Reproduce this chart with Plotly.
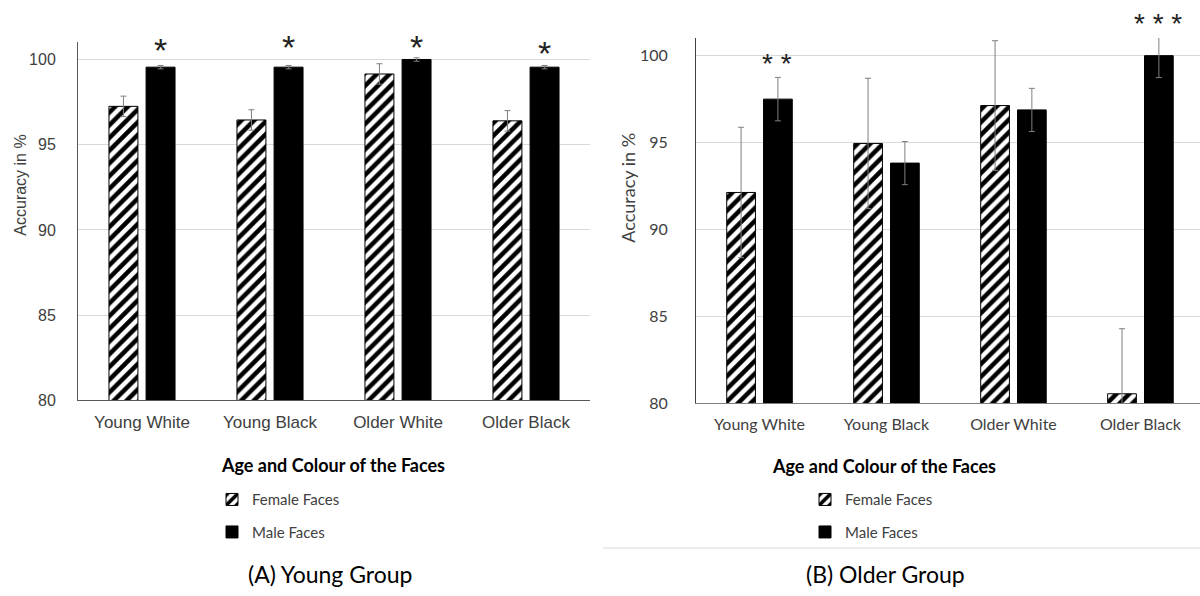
import plotly.graph_objects as go

categories = ["Young White", "Young Black", "Older White", "Older Black"]

young_female = [97.25, 96.45, 99.15, 96.4]
young_female_err = [0.6, 0.6, 0.6, 0.6]
young_male = [99.55, 99.55, 100.0, 99.55]
young_male_err = [0.1, 0.1, 0.1, 0.1]
young_sig = ["*", "*", "*", "*"]

older_female = [92.13, 94.95, 97.13, 80.55]
older_female_err = [3.75, 3.75, 3.73, 3.74]
older_male = [97.5, 93.82, 96.88, 100.0]
older_male_err = [1.25, 1.24, 1.24, 1.26]
older_sig = ["* *", "", "", "* * *"]

# target picture is 1200x596; figure slightly taller to match the capture
W, H = 1200, 604
REF_H = 596
def px(x):
    return x / W
def py(y):
    return 1 - y / REF_H

CAL = "Lato, 'Open Sans', sans-serif"
ARI = "'Liberation Sans', Arial, sans-serif"
TXT = "#404040"

hatch = dict(shape="/", fgcolor="black", bgcolor="white", size=9, solidity=0.5, fgopacity=1)
errstyle = dict(type="data", color="#7f7f7f", thickness=1, width=3)

fig = go.Figure()
fig.add_trace(go.Bar(x=categories, y=young_female, name="Female Faces",
                     marker=dict(color="white", line=dict(color="black", width=1), pattern=hatch),
                     error_y=dict(array=young_female_err, **errstyle),
                     xaxis="x", yaxis="y", legend="legend"))
fig.add_trace(go.Bar(x=categories, y=young_male, name="Male Faces",
                     marker=dict(color="black", line=dict(color="black", width=1)),
                     error_y=dict(array=young_male_err, **errstyle),
                     xaxis="x", yaxis="y", legend="legend"))
fig.add_trace(go.Bar(x=categories, y=older_female, name="Female Faces",
                     marker=dict(color="white", line=dict(color="black", width=1), pattern=hatch),
                     error_y=dict(array=older_female_err, **errstyle),
                     xaxis="x2", yaxis="y2", legend="legend2"))
fig.add_trace(go.Bar(x=categories, y=older_male, name="Male Faces",
                     marker=dict(color="black", line=dict(color="black", width=1)),
                     error_y=dict(array=older_male_err, **errstyle),
                     xaxis="x2", yaxis="y2", legend="legend2"))

annotations = []
# significance stars
young_star_y = [py(50), py(47), py(47), py(53)]
for c, s, yy in zip(categories, young_sig, young_star_y):
    if s:
        annotations.append(dict(x=c, y=yy, xref="x", yref="paper", text=s, showarrow=False,
                                xanchor="center", yanchor="middle",
                                xshift=18, font=dict(family=ARI, size=34, color="#222")))
older_star_y = [py(64), 0, 0, py(24)]
for c, s, yy in zip(categories, older_sig, older_star_y):
    if s:
        annotations.append(dict(x=c, y=yy, xref="x2", yref="paper", text=s, showarrow=False,
                                xanchor="center", yanchor="middle",
                                xshift=18, font=dict(family=ARI, size=28, color="#222")))

def note(x, y, text, font, angle=0):
    return dict(x=px(x), y=py(y), xref="paper", yref="paper", text=text, textangle=angle,
                xanchor="center", yanchor="middle", showarrow=False, font=font)

annotations += [
    note(333, 466, "<b>Age and Colour of the Faces</b>", dict(family=CAL, size=18, color="black")),
    note(884, 467, "<b>Age and Colour of the Faces</b>", dict(family=CAL, size=18, color="black")),
    note(21, 186, "Accuracy in %", dict(family=ARI, size=16, color=TXT), -90),
    note(628, 188, "Accuracy in %", dict(family=CAL, size=18, color=TXT), -90),
    note(330, 575, "(A) Young Group", dict(family=CAL, size=23, color="black")),
    note(885, 575, "(B) Older Group", dict(family=CAL, size=23, color="black")),
]

shapes = [dict(type="line", xref="paper", yref="paper", x0=px(603), x1=1, y0=py(549), y1=py(549),
               line=dict(color="#d9d9d9", width=1))]

fig.update_layout(
    width=W, height=H, margin=dict(l=0, r=0, t=0, b=0),
    paper_bgcolor="white", plot_bgcolor="white",
    barmode="group", bargap=0.42, bargroupgap=0.22,
    showlegend=True,
    xaxis=dict(domain=[px(78), px(590)], range=[-0.5, 3.5], anchor="y",
               showline=True, linecolor="#595959", linewidth=1, ticks="",
               tickfont=dict(family=ARI, size=17, color=TXT), ticklabelstandoff=6),
    yaxis=dict(domain=[py(401), py(42)], range=[80, 101.03], anchor="x",
               showline=True, linecolor="#595959", linewidth=1,
               showgrid=True, gridcolor="#d9d9d9", gridwidth=1,
               tickvals=[80, 85, 90, 95, 100], zeroline=False,
               tickfont=dict(family=ARI, size=16, color=TXT), ticklabelstandoff=18),
    xaxis2=dict(domain=[px(696), 1.0], range=[-0.5, 3.469], anchor="y2",
                showline=True, linecolor="#7f7f7f", linewidth=1, ticks="",
                tickfont=dict(family=CAL, size=16, color=TXT), ticklabelstandoff=6),
    yaxis2=dict(domain=[py(404), py(38)], range=[80, 101.02], anchor="x2",
                showline=True, linecolor="#404040", linewidth=1,
                showgrid=True, gridcolor="#d9d9d9", gridwidth=1,
                tickvals=[80, 85, 90, 95, 100], zeroline=False,
                tickfont=dict(family=CAL, size=16, color=TXT), ticklabelstandoff=24),
    legend=dict(x=px(212), y=py(484), xanchor="left", yanchor="top", orientation="v",
                font=dict(family=CAL, size=15, color=TXT), tracegroupgap=10,
                bgcolor="rgba(0,0,0,0)", itemwidth=30),
    legend2=dict(x=px(805), y=py(484), xanchor="left", yanchor="top", orientation="v",
                 font=dict(family=CAL, size=15, color=TXT), tracegroupgap=10,
                 bgcolor="rgba(0,0,0,0)", itemwidth=30),
    annotations=annotations, shapes=shapes,
)
for i, tr in enumerate(fig.data):
    tr.legendgroup = f"g{i}"

fig.write_html("out.html", config={"displayModeBar": False},
               post_script="document.body.style.margin='0px';document.body.style.overflow='hidden';")
